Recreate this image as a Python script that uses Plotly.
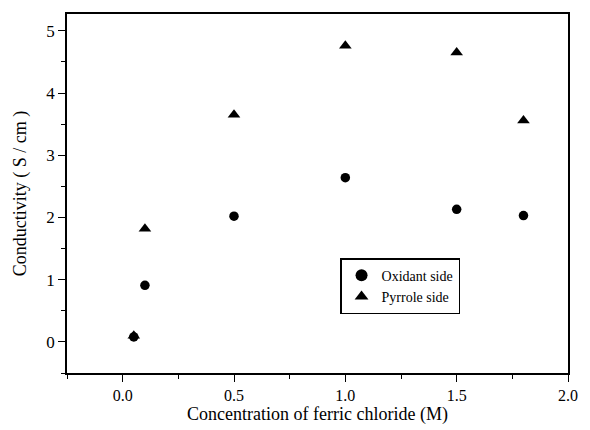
import plotly.graph_objects as go

conc = [0.05, 0.1, 0.5, 1.0, 1.5, 1.8]
oxidant_side = [0.08, 0.91, 2.02, 2.64, 2.13, 2.03]
pyrrole_side = [0.10, 1.82, 3.65, 4.76, 4.65, 3.56]

font = "Liberation Serif, Times New Roman, serif"

fig = go.Figure()
fig.add_trace(go.Scatter(x=conc, y=oxidant_side, mode="markers", name="Oxidant side",
                         marker=dict(symbol="circle", size=9.5, color="black")))
fig.add_trace(go.Scatter(x=conc, y=pyrrole_side, mode="markers", name="Pyrrole side",
                         marker=dict(symbol="triangle-up", size=11, color="black")))

axis_common = dict(showline=True, linecolor="black", linewidth=1.5, mirror=True,
                   showgrid=False, zeroline=False, ticks="outside", ticklen=7,
                   tickwidth=1.3, tickcolor="black")

fig.update_xaxes(range=[-0.25, 2.0], tickvals=[0.0, 0.5, 1.0, 1.5, 2.0],
                 ticktext=["0.0", "0.5", "1.0", "1.5", "2.0"],
                 tickfont=dict(family=font, size=16, color="black"),
                 minor=dict(ticks="outside", ticklen=4, tickcolor="black", dtick=0.25, tick0=0),
                 title=dict(text="Concentration of ferric chloride (M)",
                            font=dict(family=font, size=18, color="black"), standoff=1),
                 **axis_common)
fig.update_yaxes(range=[-0.5, 5.27], tickvals=[0, 1, 2, 3, 4, 5],
                 tickfont=dict(family=font, size=17, color="black"),
                 minor=dict(ticks="outside", ticklen=4, tickcolor="black", dtick=0.5, tick0=0),
                 title=dict(text="Conductivity ( S / cm )",
                            font=dict(family=font, size=18, color="black"), standoff=15),
                 **axis_common)

fig.update_layout(
    width=590, height=430,
    margin=dict(l=67, r=13, t=14, b=50),
    paper_bgcolor="white", plot_bgcolor="white",
    showlegend=True,
    legend=dict(x=0.545, y=0.32, xanchor="left", yanchor="top",
                bgcolor="white", bordercolor="black", borderwidth=1.5,
                font=dict(family=font, size=14, color="black"),
                itemsizing="constant", tracegroupgap=0),
)

fig.write_html("out.html")
